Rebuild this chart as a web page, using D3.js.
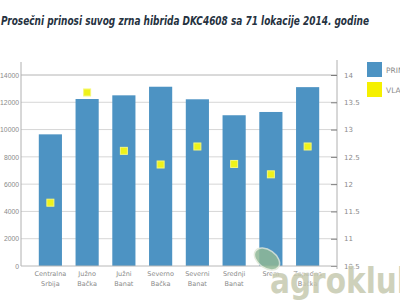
<!DOCTYPE html>
<html>
<head>
<meta charset="utf-8">
<script src="https://cdn.jsdelivr.net/npm/d3@7"></script>
<style>
  html, body { margin: 0; padding: 0; background: #fff; overflow: hidden; }
  svg { display: block; }
</style>
</head>
<body>
<svg id="chart" width="400" height="300"></svg>
<script>
// ---- data ----
const title = "Prosečni prinosi suvog zrna hibrida DKC4608 sa 71 lokacije 2014. godine";
const categories = ["Centralna Srbija", "Južno Bačka", "Južni Banat", "Severno Bačka",
                    "Severni Banat", "Srednji Banat", "Srem", "Zapadna Bačka"];
const categoryLines = [["Centralna", "Srbija"], ["Južno", "Bačka"], ["Južni", "Banat"], ["Severno", "Bačka"],
                       ["Severni", "Banat"], ["Srednji", "Banat"], ["Srem"], ["Zapadna", "Bačka"]];
const prinos = [9650, 12240, 12510, 13140, 12220, 11050, 11290, 13110];   // kg/ha
const vlaga = [11.66, 13.68, 12.61, 12.36, 12.69, 12.37, 12.18, 12.69];    // %
const leftTicks = [0, 2000, 4000, 6000, 8000, 10000, 12000, 14000];
const rightTicks = [10.5, 11, 11.5, 12, 12.5, 13, 13.5, 14];
const legendLabels = ["PRINOS", "VLAGA"];

// ---- layout ----
const svg = d3.select("#chart");
const plotL = 21, plotR = 337, plotT = 75, plotB = 266;
const barColor = "#4d93c3";
const dotColor = "#eef21a";

const x = d3.scaleBand().domain(categories).range([32, 326]).paddingInner(0.37).paddingOuter(0.185);
const y = d3.scaleLinear().domain([0, 14000]).range([plotB, plotT]);
const y2 = d3.scaleLinear().domain([10.5, 14]).range([plotB, plotT]);

// title
svg.append("text")
  .attr("x", 1).attr("y", 24.5)
  .attr("textLength", 368).attr("lengthAdjust", "spacingAndGlyphs")
  .style("font-family", "'Liberation Sans Narrow', 'DejaVu Sans Condensed', 'Roboto', sans-serif")
  .style("font-style", "italic").style("font-weight", "bold")
  .style("font-size", "12px").style("fill", "#26323f")
  .text(title);

// gridlines
svg.append("g").selectAll("line").data(leftTicks.filter(d => d > 0)).join("line")
  .attr("x1", plotL).attr("x2", plotR)
  .attr("y1", d => y(d)).attr("y2", d => y(d))
  .attr("stroke", d => d === 14000 ? "#b4b4b4" : "#d6d6d6").attr("stroke-width", 1);

// bars
svg.append("g").selectAll("rect").data(categories).join("rect")
  .attr("x", d => x(d)).attr("width", x.bandwidth())
  .attr("y", (d, i) => y(prinos[i]))
  .attr("height", (d, i) => y(0) - y(prinos[i]))
  .attr("fill", barColor);

// left axis
const gL = svg.append("g").attr("transform", `translate(${plotL},0)`)
  .call(d3.axisLeft(y).tickValues(leftTicks).tickSize(0).tickPadding(2).tickFormat(d3.format("d")));
gL.select(".domain").attr("stroke", "#b0b0b0").attr("d", `M0,62V${plotB}`);
gL.selectAll("text").style("font-family", "'Liberation Sans', 'Arial', sans-serif").style("font-size", "6.8px").style("fill", "#8a8a8a");

// right axis
const gR = svg.append("g").attr("transform", `translate(${plotR},0)`)
  .call(d3.axisRight(y2).tickValues(rightTicks).tickSizeInner(-6).tickSizeOuter(0).tickPadding(7).tickFormat(d => String(d)));
gR.select(".domain").attr("stroke", "#b0b0b0").attr("d", `M0,60V${plotB + 3}`);
gR.selectAll(".tick line").attr("stroke", "#7d7d7d");
gR.selectAll("text").style("font-family", "'DejaVu Sans', sans-serif").style("font-size", "7px").style("fill", "#8a8a8a");

// bottom axis
const gB = svg.append("g").attr("transform", `translate(0,${plotB})`)
  .call(d3.axisBottom(x).tickSize(0).tickFormat(""));
gB.select(".domain").attr("stroke", "#b8b8b8").attr("d", `M${plotL},0H${plotR}`);
gB.selectAll(".tick").each(function (d, i) {
  const t = d3.select(this).select("text").text(null)
    .attr("y", 0).attr("dy", null)
    .style("font-family", "'DejaVu Sans', sans-serif").style("font-size", "6.5px").style("fill", "#8a8a8a");
  categoryLines[i].forEach((ln, k) => {
    t.append("tspan").attr("x", 0).attr("y", 10 + k * 10).text(ln);
  });
});

// vlaga markers
svg.append("g").selectAll("rect").data(categories).join("rect")
  .attr("x", d => x(d) + x.bandwidth() / 2 - 3.5)
  .attr("y", (d, i) => y2(vlaga[i]) - 3.5)
  .attr("width", 7).attr("height", 7)
  .attr("fill", dotColor).attr("stroke", "#f6f77a").attr("stroke-width", 1);

// legend
const legend = svg.append("g");
[barColor, "#f5f000"].forEach((c, i) => {
  legend.append("rect").attr("x", 367).attr("y", 62 + i * 20).attr("width", 15).attr("height", 15).attr("fill", c);
  legend.append("text").attr("x", 386).attr("y", 72.5 + i * 20)
    .style("font-family", "'DejaVu Sans', sans-serif").style("font-size", "7.5px").style("fill", "#8a8a8a")
    .text(legendLabels[i]);
});

// watermark
const wm = svg.append("g").attr("opacity", 0.85);
wm.append("ellipse").attr("cx", 267).attr("cy", 259).attr("rx", 14).attr("ry", 9)
  .attr("transform", "rotate(35,267,259)").attr("fill", "#8fb896").attr("stroke", "#e0e8d8").attr("stroke-width", 1.5);
wm.append("text").attr("x", 270).attr("y", 293)
  .attr("textLength", 148).attr("lengthAdjust", "spacingAndGlyphs")
  .style("font-family", "'DejaVu Sans', sans-serif").style("font-weight", "bold").style("font-size", "36px")
  .style("fill", "#c6c9b0").style("stroke", "#ffffff").style("stroke-width", 1.5).style("paint-order", "stroke")
  .text("agroklub");
</script>
</body>
</html>
